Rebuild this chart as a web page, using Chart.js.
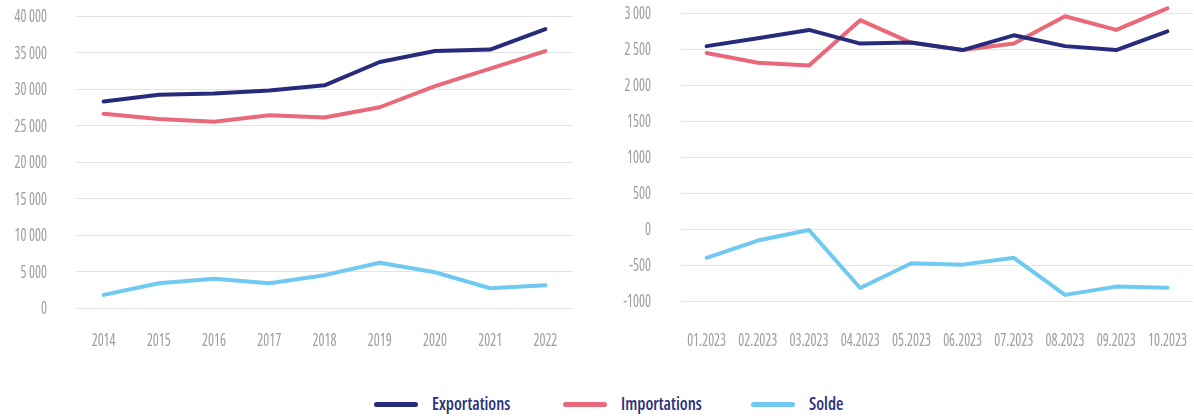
<!DOCTYPE html>
<html>
<head>
<meta charset="utf-8">
<script src="https://cdn.jsdelivr.net/npm/chart.js@4/dist/chart.umd.min.js"></script>
<style>
  body { margin: 0; background: #fff; width: 1194px; height: 416px; overflow: hidden; position: relative; }
  #yearWrap { position: absolute; left: 0; top: 0; width: 590px; height: 360px; }
  #monthWrap { position: absolute; left: 600px; top: 0; width: 594px; height: 360px; }
  #legend { position: absolute; top: 392px; left: 0; width: 1194px; height: 24px; font-family: "Open Sans", sans-serif; font-stretch: 75%; font-weight: 600; font-size: 17px; color: #2b2f7d; }
  .item { position: absolute; top: 0; height: 24px; line-height: 24px; }
  .swatch { position: absolute; top: 10px; left: 0; width: 44px; height: 5px; border-radius: 3px; }
  .item span.txt { position: absolute; left: 58px; white-space: nowrap; }
</style>
</head>
<body>
<div id="yearWrap"><canvas id="yearChart"></canvas></div>
<div id="monthWrap"><canvas id="monthChart"></canvas></div>
<div id="legend"></div>
<script>
// series names + colours
const seriesNames = ['Exportations', 'Importations', 'Solde'];
const seriesColors = ['#272b7b', '#e9687a', '#6fc9f1'];

// yearly data
const years = ['2014', '2015', '2016', '2017', '2018', '2019', '2020', '2021', '2022'];
const yearExports = [28300, 29200, 29400, 29800, 30500, 33700, 35200, 35400, 38200];
const yearImports = [26600, 25900, 25500, 26400, 26100, 27500, 30400, 32800, 35200];
const yearBalance = [1800, 3400, 4000, 3400, 4500, 6200, 4900, 2700, 3100];
const yearTicks = ['0', '5 000', '10 000', '15 000', '20 000', '25 000', '30 000', '35 000', '40 000'];

// monthly data 2023
const months = ['01.2023', '02.2023', '03.2023', '04.2023', '05.2023', '06.2023', '07.2023', '08.2023', '09.2023', '10.2023'];
const monthExports = [2540, 2650, 2765, 2575, 2590, 2485, 2690, 2540, 2485, 2745];
const monthImports = [2445, 2310, 2270, 2900, 2585, 2485, 2575, 2955, 2765, 3065];
const monthBalance = [-400, -160, -15, -820, -475, -495, -400, -915, -800, -815];
const monthTicks = ['-1000', '-500', '0', '500', '1000', '1500', '2 000', '2 500', '3 000'];

// condensed tick labels: Open Sans at its narrowest width, squeezed a bit more
const labelFont = '500 18px "Open Sans", sans-serif';
const labelColor = '#9d9d9d';
const squeeze = 0.78;

function drawText(ctx, text, x, y, align) {
    ctx.save();
    ctx.font = labelFont;
    ctx.fontStretch = 'condensed';
    ctx.fillStyle = labelColor;
    ctx.textAlign = align;
    ctx.textBaseline = 'middle';
    ctx.translate(x, y);
    ctx.scale(squeeze, 1);
    ctx.fillText(text, 0, 0);
    ctx.restore();
}

const condensedTicks = {
    id: 'condensedTicks',
    afterDraw(chart, args, opts) {
        const ctx = chart.ctx;
        const xs = chart.scales.x, ys = chart.scales.y;
        xs.ticks.forEach((t, i) => {
            drawText(ctx, t.label, xs.getPixelForTick(i), opts.xLabelY, 'center');
        });
        ys.ticks.forEach((t, i) => {
            drawText(ctx, t.label, chart.chartArea.left - opts.yGap, ys.getPixelForTick(i) + 1, 'right');
        });
    }
};

function makeDatasets(a, b, c) {
    return [a, b, c].map((d, i) => ({
        label: seriesNames[i],
        data: d,
        borderColor: seriesColors[i],
        backgroundColor: seriesColors[i],
        borderWidth: 4,
        pointRadius: 0,
        tension: 0,
        clip: false,
        borderCapStyle: 'round',
        borderJoinStyle: 'round'
    }));
}

function makeOptions(min, max, step, tickLabels, area) {
    return {
        responsive: true,
        maintainAspectRatio: false,
        animation: false,
        layout: { padding: { top: area.top, right: area.right, left: 0, bottom: 0 } },
        plugins: {
            legend: { display: false },
            tooltip: { enabled: false },
            condensedTicks: { xLabelY: 341, yGap: area.yGap }
        },
        scales: {
            x: {
                offset: true,
                grid: { display: false },
                border: { display: false },
                ticks: { display: false, autoSkip: false, maxRotation: 0 },
                afterFit: s => { s.height = area.xHeight; }
            },
            y: {
                min: min,
                max: max,
                grid: { color: '#e4e4e4', lineWidth: 1, drawTicks: false },
                border: { display: false },
                ticks: {
                    display: false,
                    stepSize: step,
                    callback: function(value) {
                        return tickLabels[Math.round((value - min) / step)];
                    }
                },
                afterFit: s => { s.width = area.left; }
            }
        }
    };
}

new Chart(document.getElementById('yearChart'), {
    type: 'line',
    data: { labels: years, datasets: makeDatasets(yearExports, yearImports, yearBalance) },
    options: makeOptions(0, 40000, 5000, yearTicks, { top: 16, right: 17, left: 76, xHeight: 52, yGap: 29 }),
    plugins: [condensedTicks]
});

new Chart(document.getElementById('monthChart'), {
    type: 'line',
    data: { labels: months, datasets: makeDatasets(monthExports, monthImports, monthBalance) },
    options: makeOptions(-1000, 3000, 500, monthTicks, { top: 13, right: 1, left: 81, xHeight: 59, yGap: 30 }),
    plugins: [condensedTicks]
});

// html legend
const legendPos = [374, 563, 751];
const legend = document.getElementById('legend');
seriesNames.forEach((name, i) => {
    const item = document.createElement('div');
    item.className = 'item';
    item.style.left = legendPos[i] + 'px';
    item.innerHTML = `<div class="swatch" style="background:${seriesColors[i]}"></div><span class="txt">${name}</span>`;
    legend.appendChild(item);
});
</script>
</body>
</html>
